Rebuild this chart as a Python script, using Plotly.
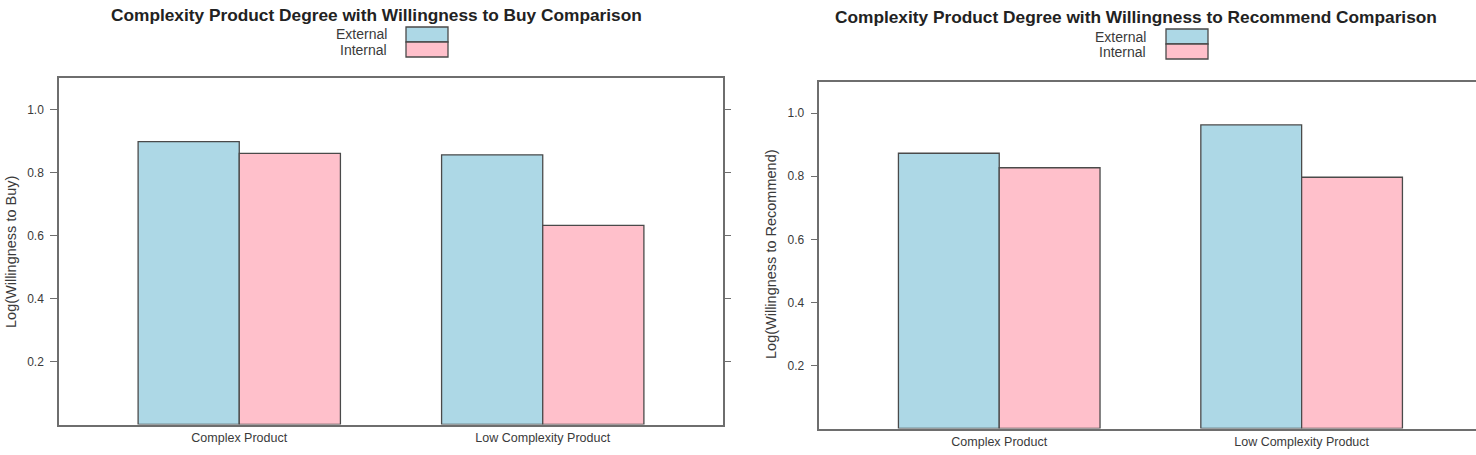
import plotly.graph_objects as go

W, H = 1476, 455

categories = ["Complex Product", "Low Complexity Product"]
series_names = ["External", "Internal"]
colors = ["#ADD8E6", "#FFC0CB"]

buy_external = [0.898, 0.856]
buy_internal = [0.861, 0.632]
rec_external = [0.873, 0.963]
rec_internal = [0.827, 0.797]

ytick_vals = [0.2, 0.4, 0.6, 0.8, 1.0]
ytick_text = ["0.2", "0.4", "0.6", "0.8", "1.0"]

titles = ["Complexity Product Degree with Willingness to Buy Comparison",
          "Complexity Product Degree with Willingness to Recommend Comparison"]
ytitles = ["Log(Willingness to Buy)", "Log(Willingness to Recommend)"]

FONT = "Liberation Sans, Arial, sans-serif"
EDGE = "#4a4a4a"
AX = "#6e6e6e"
TXT = "#3a3a3a"

def px(x):
    return x / W

def py(y):
    return 1 - y / H

fig = go.Figure()

panels = [
    dict(xa="x", ya="y", ext=buy_external, inn=buy_internal),
    dict(xa="x2", ya="y2", ext=rec_external, inn=rec_internal),
]
for p in panels:
    for name, vals, col in zip(series_names, [p["ext"], p["inn"]], colors):
        fig.add_trace(go.Bar(
            x=categories, y=vals, name=name, xaxis=p["xa"], yaxis=p["ya"],
            marker=dict(color=col, line=dict(color=EDGE, width=1.3)),
            showlegend=False, hoverinfo="x+y+name"))

axis_common_y = dict(
    range=[0, 1.1], tickvals=ytick_vals, ticktext=ytick_text,
    ticks="outside", ticklen=7, tickwidth=1.3, tickcolor=AX,
    showline=True, linecolor=AX, linewidth=1.5, showgrid=False, zeroline=False,
    tickfont=dict(family=FONT, size=12, color=TXT), ticklabelstandoff=4,
)
axis_common_x = dict(
    type="category", showline=True, linecolor=AX, linewidth=1.5,
    showgrid=False, zeroline=False, ticks="", mirror=True,
    tickfont=dict(family=FONT, size=12.5, color=TXT), ticklabelstandoff=1,
)

fig.update_layout(
    width=W, height=H,
    margin=dict(l=0, r=0, t=0, b=0),
    paper_bgcolor="white", plot_bgcolor="white",
    barmode="group", bargap=1/3, bargroupgap=0,
    showlegend=False,
    xaxis=dict(domain=[px(59), px(722.7)], range=[-0.594, 1.593],
               anchor="y", **axis_common_x),
    yaxis=dict(domain=[py(424.5), py(78)], anchor="x", mirror="ticks",
               **axis_common_y),
    xaxis2=dict(domain=[px(819.3), 1.0], range=[-0.595, 1.5766],
                anchor="y2", **axis_common_x),
    yaxis2=dict(domain=[py(428.5), py(81.7)], anchor="x2", mirror=False,
                **axis_common_y),
)

annotations = []
shapes = []

# titles
for t, cx, cy in zip(titles, [376, 1136], [15, 17]):
    annotations.append(dict(text="<b>" + t + "</b>", x=px(cx), y=py(cy),
                            xref="paper", yref="paper", showarrow=False,
                            xanchor="center", yanchor="middle",
                            font=dict(family=FONT, size=17.3, color="#222222")))

# y titles
for t, cx, cy in zip(ytitles, [11, 771], [252, 254]):
    annotations.append(dict(text=t, x=px(cx), y=py(cy), xref="paper", yref="paper",
                            showarrow=False, textangle=-90,
                            xanchor="center", yanchor="middle",
                            font=dict(family=FONT, size=14.5, color=TXT)))

# legends
legend_specs = [
    dict(text_right=389, box_l=406, box_r=448, top=27),
    dict(text_right=1148, box_l=1166, box_r=1208, top=29),
]
for spec in legend_specs:
    bh = 15
    for i, (name, col) in enumerate(zip(series_names, colors)):
        y0 = spec["top"] + i * bh
        shapes.append(dict(type="rect", xref="paper", yref="paper",
                           x0=px(spec["box_l"]), x1=px(spec["box_r"]),
                           y0=py(y0 + bh), y1=py(y0),
                           fillcolor=col, line=dict(color=EDGE, width=1.3)))
        annotations.append(dict(text=name, x=px(spec["text_right"]),
                                y=py(y0 + bh / 2), xref="paper", yref="paper",
                                showarrow=False, xanchor="right", yanchor="middle",
                                font=dict(family=FONT, size=14, color=TXT)))

fig.update_layout(annotations=annotations, shapes=shapes)

fig.write_html("out.html")
